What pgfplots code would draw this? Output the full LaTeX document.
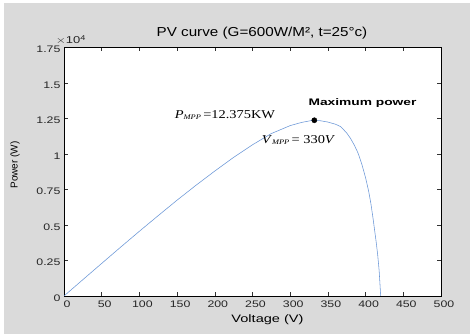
\documentclass[border=0pt]{standalone}
\usepackage{pgfplots}
\pgfplotsset{compat=1.18}
\usepackage{graphicx}
\usepackage{fontspec}
\setmainfont{Liberation Sans}
\newfontfamily\tnr{Liberation Serif}
\definecolor{figbg}{RGB}{218,218,218}
\definecolor{curve}{RGB}{105,150,215}
\newcommand{\hs}[2]{\scalebox{#1}[1]{#2}}
\newcommand{\tl}[1]{\hs{1.3}{#1}}
\begin{document}
\begin{tikzpicture}[x=1pt,y=1pt]
\useasboundingbox (0,0) rectangle (473,336);
\fill[white] (0,0) rectangle (473,336);
\fill[figbg] (4,2) rectangle (470,333);
\begin{axis}[
  at={(64pt,40pt)}, anchor=south west,
  scale only axis, width=377pt, height=248.5pt,
  xmin=0, xmax=500, ymin=0, ymax=17500,
  axis background/.style={fill=white},
  axis line style={black, line width=0.6pt},
  tick style={black!80, line width=0.5pt},
  major tick length=4pt,
  tick align=inside,
  xtick={0,50,...,500},
  xticklabels={\tl{0},\tl{50},\tl{100},\tl{150},\tl{200},\tl{250},\tl{300},\tl{350},\tl{400},\tl{450},\tl{500}},
  ytick={0,2500,...,17500},
  yticklabels={\tl{0},\tl{0.25},\tl{0.5},\tl{0.75},\tl{1},\tl{1.25},\tl{1.5},\tl{1.75}},
  scaled ticks=false,
  xticklabel style={font=\fontsize{9.5}{11}\selectfont, text=black!85, xshift=3pt, yshift=-1pt},
  yticklabel style={font=\fontsize{9.5}{11}\selectfont, text=black!85, yshift=-2pt},
  /pgf/number format/assume math mode=true,
  clip=true,
]
\addplot[curve, line width=0.55pt] coordinates {
(0,0) (25,1150) (50,2295) (75,3435) (100,4560) (125,5663) (150,6750)
(175,7796) (200,8800) (225,9765) (250,10650) (275,11440) (300,12000)
(315,12222) (330,12375) (340,12342) (350,12250) (360,12096) (367,11928)
(375,11475) (380,11096) (385,10626) (390,10062) (395,9283) (400,8320)
(404,7393) (407,6512) (410,5412) (412,4614) (414,3809) (416,2912)
(418,1756) (420,0)
};
\addplot[only marks, mark=*, mark size=2.6pt, black] coordinates {(332,12375)};
\end{axis}
% title
\node at (262,303) {\fontsize{13}{15}\selectfont\hs{1.17}{PV curve (G=600W/M², t=25°c)}};
% multiplier
\node[text=black!85] at (71,296) {\fontsize{10}{11}\selectfont\hs{1.3}{$\times$10\textsuperscript{4}}};
% axis labels
\node at (267.5,16) {\fontsize{10.8}{12}\selectfont\hs{1.35}{Voltage (V)}};
\node[rotate=90] at (15,171) {\fontsize{10}{12}\selectfont Power (W)};
% annotations
\node at (362.5,233) {\fontsize{9.5}{11}\selectfont\hs{1.45}{\bfseries Maximum power}};
\node at (225,221) {\fontsize{12}{14}\selectfont\hs{1.2}{\tnr\textit{P}\raisebox{-0.35ex}{\fontsize{7}{8}\selectfont\textit{MPP}}\,=12.375KW}};
\node at (298.5,196) {\fontsize{12}{14}\selectfont\hs{1.2}{\tnr\textit{V}\raisebox{-0.35ex}{\fontsize{7}{8}\selectfont\textit{MPP}}\,= 330\textit{V}}};
\end{tikzpicture}
\end{document}
